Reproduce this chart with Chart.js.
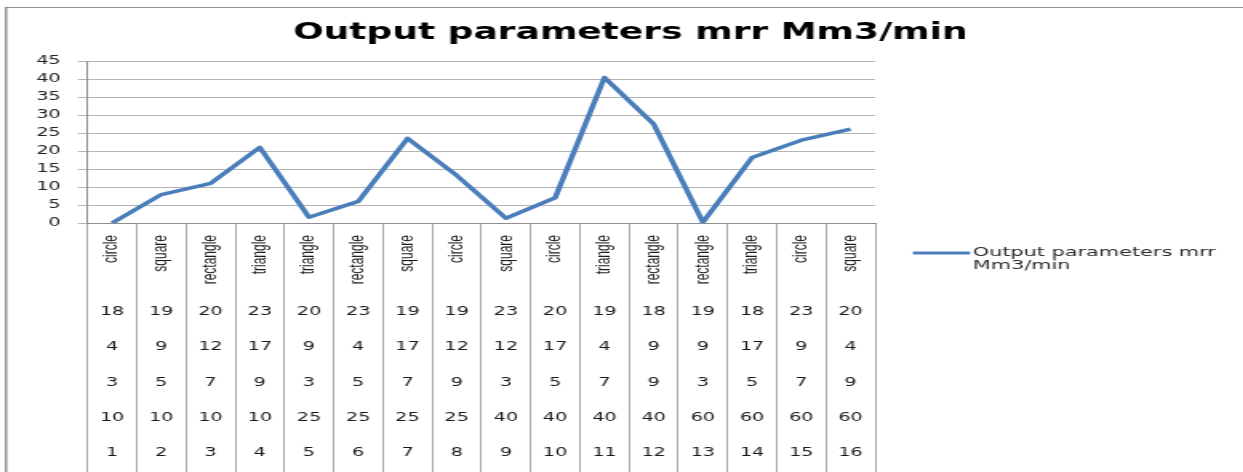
<!DOCTYPE html>
<html>
<head>
<meta charset="utf-8">
<title>Output parameters mrr Mm3/min</title>
<script src="https://cdn.jsdelivr.net/npm/chart.js@4.4.1/dist/chart.umd.min.js"></script>
<style>
    html, body { margin: 0; padding: 0; background: #fff; overflow: hidden; }
    /* the original picture is an Excel chart stretched sideways, so draw narrow and stretch */
    #wrap { width: 777px; height: 472px; transform: scaleX(1.6); transform-origin: 0 0; }
</style>
</head>
<body>
<div id="wrap"><canvas id="mrrChart" width="777" height="472"></canvas></div>
<script>
const titleText = 'Output parameters mrr Mm3/min';
const seriesName = 'Output parameters mrr Mm3/min';

// category table under the axis (one entry per run)
const shapes = ['circle', 'square', 'rectangle', 'triangle', 'triangle', 'rectangle', 'square', 'circle',
                'square', 'circle', 'triangle', 'rectangle', 'rectangle', 'triangle', 'circle', 'square'];
const rowA = [18, 19, 20, 23, 20, 23, 19, 19, 23, 20, 19, 18, 19, 18, 23, 20];
const rowB = [4, 9, 12, 17, 9, 4, 17, 12, 12, 17, 4, 9, 9, 17, 9, 4];
const rowC = [3, 5, 7, 9, 3, 5, 7, 9, 3, 5, 7, 9, 3, 5, 7, 9];
const rowD = [10, 10, 10, 10, 25, 25, 25, 25, 40, 40, 40, 40, 60, 60, 60, 60];
const runNo = [1, 2, 3, 4, 5, 6, 7, 8, 9, 10, 11, 12, 13, 14, 15, 16];

// mrr values
const mrr = [0, 7.9, 11, 21, 1.6, 6, 23.5, 13.2, 1.3, 7, 40.4, 27.5, 0.2, 18.2, 23, 26.1];

// y axis ticks
const yMin = 0;
const yMax = 45;
const yStep = 5;

const lineColor = '#4a7ebb';

// frame, title, table text and legend
const extrasPlugin = {
    id: 'extras',
    beforeDraw(chart) {
        const ctx = chart.ctx;
        ctx.save();
        ctx.strokeStyle = '#8c8c8c';
        ctx.lineWidth = 1;
        ctx.beginPath();
        ctx.moveTo(3, 7.5);
        ctx.lineTo(chart.width, 7.5);
        ctx.stroke();
        ctx.lineWidth = 1.4;
        ctx.beginPath();
        ctx.moveTo(3.8, 7);
        ctx.lineTo(3.8, chart.height);
        ctx.stroke();
        ctx.restore();
    },
    afterDraw(chart) {
        const ctx = chart.ctx;
        const x = chart.scales.x;
        ctx.save();

        // title
        ctx.fillStyle = '#000';
        ctx.font = 'bold 22.5px "DejaVu Sans"';
        ctx.textAlign = 'center';
        ctx.textBaseline = 'middle';
        ctx.fillText(titleText, 394, 33);

        // rotated shape names
        ctx.fillStyle = '#1a1a1a';
        ctx.font = '12px "Liberation Sans"';
        shapes.forEach((s, i) => {
            ctx.save();
            ctx.translate(x.getPixelForValue(i), x.top + 12);
            ctx.rotate(-Math.PI / 2);
            ctx.textAlign = 'right';
            ctx.textBaseline = 'middle';
            ctx.fillText(s, 0, 0);
            ctx.restore();
        });

        // number rows
        ctx.font = '12px "DejaVu Sans"';
        ctx.textAlign = 'center';
        ctx.textBaseline = 'middle';
        [rowA, rowB, rowC, rowD, runNo].forEach((row, r) => {
            row.forEach((v, i) => {
                ctx.fillText(String(v), x.getPixelForValue(i), x.top + 89 + r * 35.2);
            });
        });

        // legend
        const ds = chart.data.datasets[0];
        ctx.strokeStyle = ds.borderColor;
        ctx.lineWidth = 3;
        ctx.beginPath();
        ctx.moveTo(570.6, 253);
        ctx.lineTo(606.3, 253);
        ctx.stroke();
        ctx.fillStyle = '#2a2a2a';
        ctx.font = '13px "DejaVu Sans"';
        ctx.textAlign = 'left';
        ctx.fillText('Output parameters mrr', 608, 253);
        ctx.fillText('Mm3/min', 608, 266);

        ctx.restore();
    }
};

const ctxMrr = document.getElementById('mrrChart').getContext('2d');
const mrrChart = new Chart(ctxMrr, {
    type: 'line',
    data: {
        labels: runNo.map(String),
        datasets: [{
            label: seriesName,
            data: mrr,
            borderColor: lineColor,
            borderWidth: 3.5,
            borderJoinStyle: 'round',
            pointRadius: 0,
            tension: 0,
            fill: false
        }]
    },
    options: {
        responsive: false,
        animation: false,
        layout: {
            padding: { left: 4.7, top: 61, right: 230, bottom: 0 }
        },
        plugins: {
            legend: { display: false },
            title: { display: false },
            tooltip: { enabled: false }
        },
        scales: {
            x: {
                offset: true,
                grid: { offset: true, drawOnChartArea: false, tickLength: 249, color: '#a6a6a6' },
                ticks: { display: false },
                border: { color: '#8c8c8c' },
                afterFit(scale) { scale.height = 249; }
            },
            y: {
                min: yMin,
                max: yMax,
                ticks: {
                    stepSize: yStep,
                    padding: 10.7,
                    color: '#222',
                    font: { family: 'DejaVu Sans', size: 12 }
                },
                grid: { color: '#b4b4b4', tickLength: 6 },
                border: { color: '#8c8c8c' },
                afterFit(scale) { scale.width = 50; }
            }
        }
    },
    plugins: [extrasPlugin]
});
</script>
</body>
</html>
